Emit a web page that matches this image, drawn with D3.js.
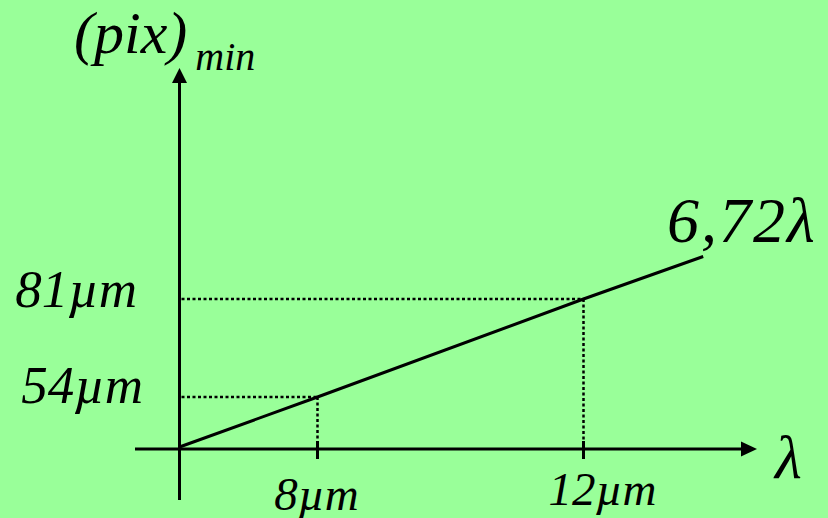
<!DOCTYPE html>
<html>
<head>
<meta charset="utf-8">
<script src="https://cdn.jsdelivr.net/npm/d3@7"></script>
<style>
  html, body { margin: 0; padding: 0; background: #99ff99; }
  svg { display: block; }
</style>
</head>
<body>
<svg id="chart" width="828" height="518"></svg>
<script>
// Wavelength (µm) and minimum pixel size (µm) along the 6,72λ relation
const lambdaValues = [0, 8, 12, 13.8];
const pixValues = [0, 54, 81, 92.7];

// Marked points with guide lines
const markedLambda = [8, 12];
const markedPix = [54, 81];
const xTickLabels = ["8µm", "12µm"];
const yTickLabels = ["54µm", "81µm"];
const lineLabel = "6,72λ";

const FONT = "'Liberation Serif', 'Times New Roman', Times, serif";

const svg = d3.select("#chart");
const W = 828, H = 518;

svg.append("rect").attr("width", W).attr("height", H).attr("fill", "#99ff99");

// Schematic (non-proportional) axes: piecewise linear scales
const x = d3.scaleLinear().domain([0, 8, 12]).range([179.5, 317.5, 583.5]);
const y = d3.scaleLinear().domain([0, 54, 81]).range([447, 397, 299]);

const axisY = 449;   // horizontal axis position
const axisX = x(0);  // vertical axis position

// Guide lines (dotted)
const guides = svg.append("g")
  .attr("stroke", "#000").attr("stroke-width", 2.5)
  .attr("stroke-dasharray", "3,2.5").attr("fill", "none");
markedLambda.forEach((l, i) => {
  const p = markedPix[i];
  guides.append("line")
    .attr("x1", axisX + 2).attr("y1", y(p))
    .attr("x2", x(l)).attr("y2", y(p));
  guides.append("line")
    .attr("x1", x(l)).attr("y1", y(p))
    .attr("x2", x(l)).attr("y2", axisY);
});

// Axes
const axes = svg.append("g").attr("stroke", "#000").attr("stroke-width", 3);
axes.append("line")
  .attr("x1", 135).attr("y1", axisY).attr("x2", 744).attr("y2", axisY);
axes.append("line")
  .attr("x1", axisX).attr("y1", 500).attr("x2", axisX).attr("y2", 80);

// Arrow heads
svg.append("path")
  .attr("d", `M757,${axisY} L741,${axisY - 7.5} L741,${axisY + 7.5} Z`)
  .attr("fill", "#000");
svg.append("path")
  .attr("d", `M${axisX},68 L${axisX - 7.5},83 L${axisX + 7.5},83 Z`)
  .attr("fill", "#000");

// Ticks on the λ axis
svg.append("g").attr("stroke", "#000").attr("stroke-width", 3)
  .selectAll("line").data(markedLambda).join("line")
  .attr("x1", d => x(d)).attr("x2", d => x(d))
  .attr("y1", axisY - 8).attr("y2", axisY + 10);

// The relation line
const line = d3.line()
  .x((d, i) => x(lambdaValues[i]))
  .y((d, i) => y(pixValues[i]));
svg.append("path")
  .datum(lambdaValues)
  .attr("d", line)
  .attr("fill", "none").attr("stroke", "#000").attr("stroke-width", 3);

// All labels share the italic serif face
const labels = svg.append("g")
  .attr("font-family", FONT)
  .attr("font-style", "italic")
  .attr("fill", "#000");

// Tick labels
labels.append("g").selectAll("text").data(markedLambda).join("text")
  .attr("x", (d, i) => x(d) + (i === 0 ? -1 : 19))
  .attr("y", (d, i) => i === 0 ? 510 : 505)
  .attr("text-anchor", "middle")
  .attr("font-size", 47)
  .text((d, i) => xTickLabels[i]);

labels.append("g").selectAll("text").data(markedPix).join("text")
  .attr("x", (d, i) => i === 0 ? 143 : 137)
  .attr("y", d => y(d) + (d === 54 ? 6 : 8))
  .attr("text-anchor", "end")
  .attr("font-size", 53)
  .text((d, i) => yTickLabels[i]);

// Axis titles
const yTitle = labels.append("text").attr("x", 74).attr("y", 53).attr("font-size", 60);
yTitle.append("tspan").text("(pix)");
yTitle.append("tspan").attr("font-size", 40).attr("dy", 17).attr("dx", 8).text("min");

labels.append("text").attr("x", 775).attr("y", 478).attr("font-size", 62).text("λ");

// Line label
labels.append("text").attr("x", 667).attr("y", 242)
  .attr("font-size", 64).attr("letter-spacing", 2).text(lineLabel);
</script>
</body>
</html>
